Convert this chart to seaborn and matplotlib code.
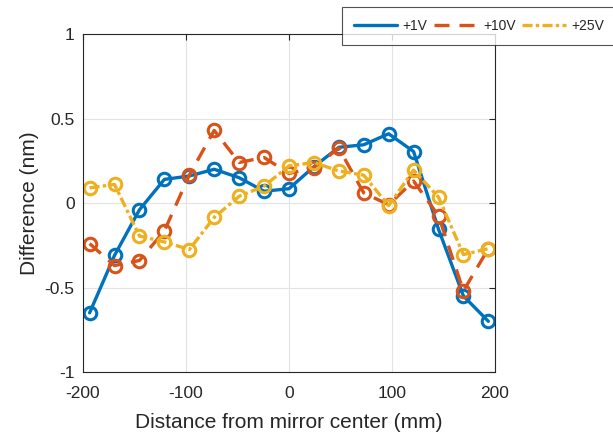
import numpy as np
import pandas as pd
import seaborn as sns
import matplotlib.pyplot as plt
from matplotlib.lines import Line2D

# distance along mirror (mm)
positions = [-193.6, -169.4, -145.2, -121.0, -96.8, -72.6, -48.4, -24.2, 0.0,
             24.2, 48.4, 72.6, 96.8, 121.0, 145.2, 169.4, 193.6]

diff_1v = [-0.65, -0.31, -0.04, 0.14, 0.16, 0.20, 0.15, 0.07, 0.085,
           0.215, 0.33, 0.345, 0.41, 0.305, -0.155, -0.55, -0.70]
diff_10v = [-0.24, -0.37, -0.34, -0.165, 0.165, 0.43, 0.24, 0.27, 0.175,
            0.21, 0.325, 0.06, -0.01, 0.13, -0.075, -0.52, -0.27]
diff_25v = [0.09, 0.11, -0.195, -0.23, -0.275, -0.085, 0.04, 0.10, 0.22,
            0.24, 0.19, 0.165, -0.015, 0.195, 0.035, -0.305, -0.27]

labels = ['+1V', '+10V', '+25V']
colors = ['#0072BD', '#D95319', '#EDB120']
dash_styles = ['', (4.5, 3.0), (3.0, 1.0, 1.0, 1.0)]

rows = []
for lab, vals in zip(labels, [diff_1v, diff_10v, diff_25v]):
    for x, y in zip(positions, vals):
        rows.append({'x': x, 'y': y, 'series': lab})
df = pd.DataFrame(rows)

sns.set_style('white')
plt.rcParams['font.family'] = ['Liberation Sans', 'DejaVu Sans']

fig = plt.figure(figsize=(6.13, 4.37), dpi=100)
ax = fig.add_axes([0.1354, 0.1487, 0.672, 0.7733])

ax.grid(True, color='#e3e3e3', linewidth=0.8)
ax.set_axisbelow(True)

for lab, col, ds in zip(labels, colors, dash_styles):
    sub = df[df['series'] == lab]
    sns.lineplot(data=sub, x='x', y='y', ax=ax, color=col, linewidth=2.4,
                 marker='o', markersize=9, markerfacecolor='none',
                 markeredgecolor=col, markeredgewidth=2.2,
                 dashes=False, sort=False, estimator=None, legend=False)
    if ds:
        ax.lines[-1].set_dashes(ds)

ax.set_xlim(-200, 200)
ax.set_ylim(-1, 1)
ax.set_xticks([-200, -100, 0, 100, 200])
ax.set_yticks([-1, -0.5, 0, 0.5, 1])
ax.set_yticklabels(['-1', '-0.5', '0', '0.5', '1'])
ax.set_xticklabels(['-200', '-100', '0', '100', '200'])
ax.tick_params(direction='in', length=4, width=0.8, colors='#262626',
               labelsize=12.5, top=True, right=True)
ax.tick_params(axis='x', pad=10)
ax.tick_params(axis='y', pad=6)
for s in ax.spines.values():
    s.set_color('#262626')
    s.set_linewidth(0.8)
ax.set_xlabel('Distance from mirror center (mm)', fontsize=15, color='#262626',
              labelpad=9)
ax.set_ylabel('Difference (nm)', fontsize=15, color='#262626', labelpad=4)

handles = []
for lab, col, ds in zip(labels, colors, dash_styles):
    h = Line2D([0], [0], color=col, linewidth=2.4)
    if ds:
        h.set_dashes(ds)
    handles.append(h)
leg = fig.legend(handles=handles, labels=labels, ncol=3, loc='upper left',
                 bbox_to_anchor=(0.558, 0.984), borderaxespad=0,
                 fontsize=10, frameon=True, fancybox=False,
                 edgecolor='#262626', handlelength=3.1,
                 columnspacing=0.5, handletextpad=0.4, borderpad=0.85)
leg.get_frame().set_linewidth(0.8)

fig.savefig('out.png', dpi=100)
